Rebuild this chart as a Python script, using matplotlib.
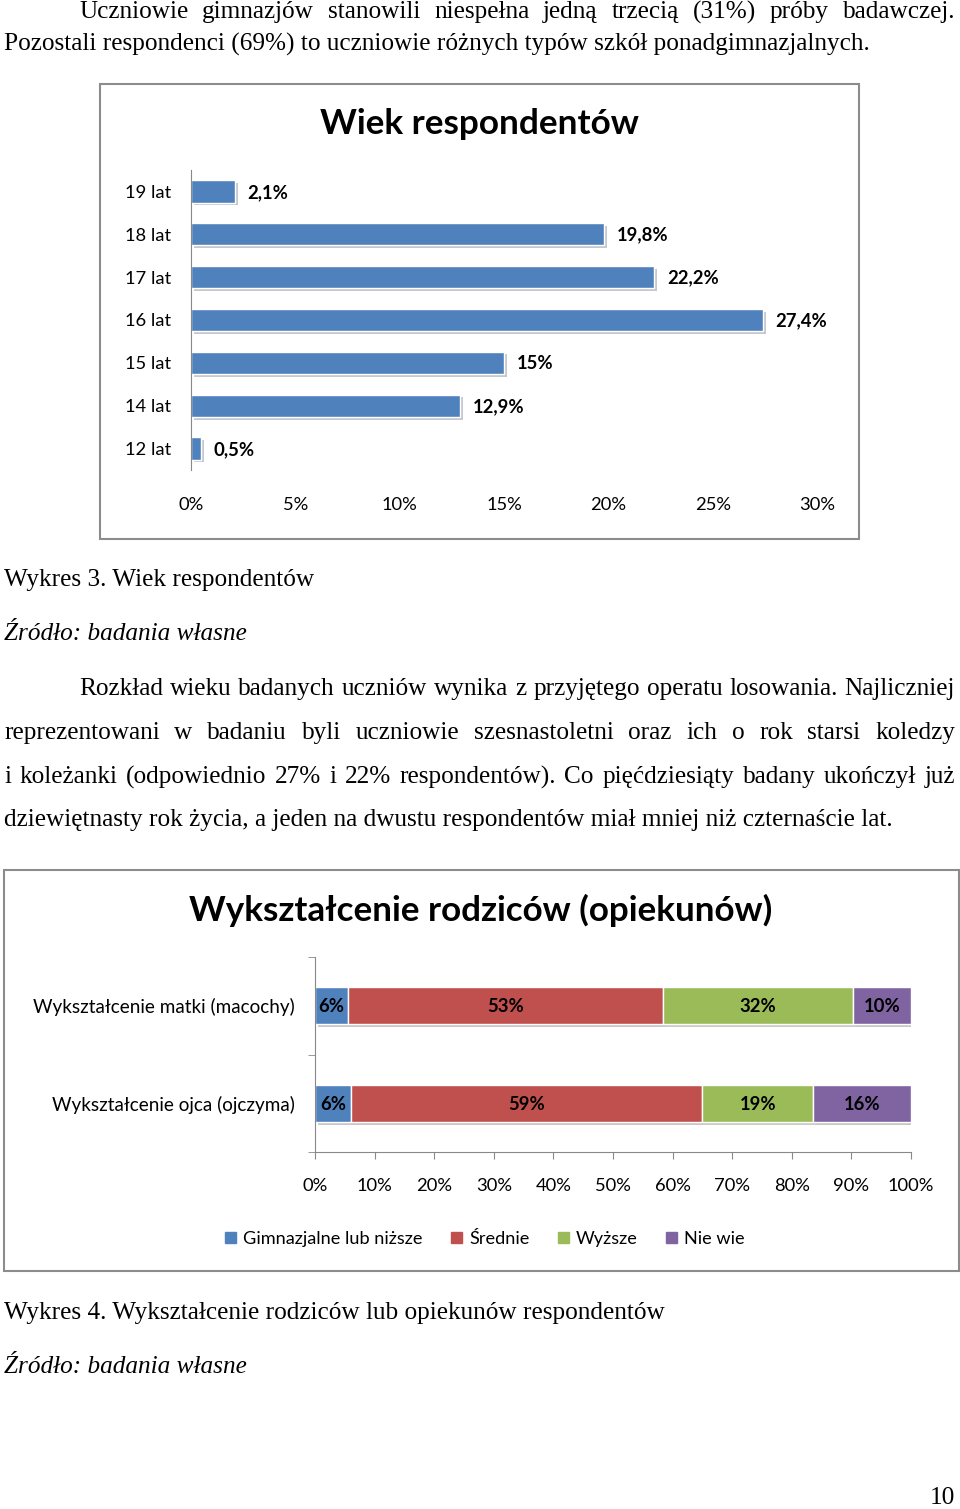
import matplotlib.pyplot as plt
from matplotlib.patches import Rectangle, Patch
import matplotlib.patheffects as pe

# dane - wykres 3
wiek = ['12 lat', '14 lat', '15 lat', '16 lat', '17 lat', '18 lat', '19 lat']
wiek_proc = [0.5, 12.9, 15.0, 27.4, 22.2, 19.8, 2.1]
wiek_etyk = ['0,5%', '12,9%', '15%', '27,4%', '22,2%', '19,8%', '2,1%']
wiek_ticks = [0, 5, 10, 15, 20, 25, 30]

# dane - wykres 4
rodzice = ['Wykształcenie ojca (ojczyma)', 'Wykształcenie matki (macochy)']
poziomy = ['Gimnazjalne lub niższe', 'Średnie', 'Wyższe', 'Nie wie']
gimnazjalne = [6.0, 5.5]
srednie = [59.0, 52.9]
wyzsze = [18.6, 31.9]
nie_wie = [16.4, 9.7]
kolory = ['#4F81BD', '#C0504D', '#9BBB59', '#8064A2']

W, H = 960, 1509
fig = plt.figure(figsize=(W / 100, H / 100), dpi=100)
SERIF = 'Liberation Serif'
SANS = 'Lato'
FS = 18.2


def fx(x):
    return x / W


def fy(y):
    return 1 - y / H


def linia(txt, x, y, **kw):
    fig.text(fx(x), fy(y), txt, family=SERIF, fontsize=FS, va='center', **kw)


def justuj(txt, x0, x1, y, **kw):
    slowa = txt.split()
    teksty = [fig.text(0, 0, s, family=SERIF, fontsize=FS, va='center', **kw) for s in slowa]
    r = fig.canvas.get_renderer()
    szer = [t.get_window_extent(r).width for t in teksty]
    odstep = (x1 - x0 - sum(szer)) / (len(slowa) - 1)
    x = x0
    for t, s in zip(teksty, szer):
        t.set_position((fx(x), fy(y)))
        x += s + odstep


def ramka(x0, y0, x1, y1):
    fig.add_artist(Rectangle((fx(x0), fy(y1)), (x1 - x0) / W, (y1 - y0) / H,
                             transform=fig.transFigure, fill=False, ec='#8c8c8c', lw=1.5))


# tekst nad wykresem
justuj('Uczniowie gimnazjów stanowili niespełna jedną trzecią (31%) próby badawczej.', 79, 955, 12)
linia('Pozostali respondenci (69%) to uczniowie różnych typów szkół ponadgimnazjalnych.', 4, 44)

# wykres 3
ramka(100, 84, 859, 539)
fig.text(fx(480), fy(124), 'Wiek respondentów', family=SANS, fontsize=25.3, weight='bold',
         ha='center', va='center')
ax1 = fig.add_axes([fx(191), fy(470), (817 - 191) / W, 300 / H])
cien = [pe.SimplePatchShadow(offset=(2, -2), alpha=0.25), pe.Normal()]
bars = ax1.barh(range(len(wiek)), wiek_proc, height=0.52, color='#4F81BD',
                edgecolor='white', linewidth=1)
for b in bars:
    b.set_path_effects(cien)
for i, v in enumerate(wiek_proc):
    ax1.text(v + 0.6, i - 0.02, wiek_etyk[i], family=SANS, fontsize=13.3, weight='bold',
             va='center')
ax1.set_xlim(0, 30)
ax1.set_ylim(-0.5, len(wiek) - 0.5)
ax1.set_yticks(range(len(wiek)), wiek)
ax1.set_xticks(wiek_ticks, [f'{t}%' for t in wiek_ticks])
ax1.tick_params(axis='y', length=0, pad=14, labelsize=13.2)
ax1.tick_params(axis='x', length=0, pad=19.5, labelsize=13.2)
for lab in ax1.get_xticklabels() + ax1.get_yticklabels():
    lab.set_family(SANS)
for s in ['top', 'right', 'bottom']:
    ax1.spines[s].set_visible(False)
ax1.spines['left'].set_color('#888888')
ax1.patch.set_alpha(0)

linia('Wykres 3. Wiek respondentów', 4, 580)
linia('Źródło: badania własne', 4, 634, style='italic')

justuj('Rozkład wieku badanych uczniów wynika z przyjętego operatu losowania. Najliczniej', 79, 955, 689)
justuj('reprezentowani w badaniu byli uczniowie szesnastoletni oraz ich o rok starsi koledzy', 4, 955, 733)
justuj('i koleżanki (odpowiednio 27% i 22% respondentów). Co pięćdziesiąty badany ukończył już', 4, 955, 777)
linia('dziewiętnasty rok życia, a jeden na dwustu respondentów miał mniej niż czternaście lat.', 4, 820)

# wykres 4
ramka(4, 870, 959, 1271)
fig.text(fx(481), fy(910), 'Wykształcenie rodziców (opiekunów)', family=SANS, fontsize=25.2,
         weight='bold', ha='center', va='center')
ax2 = fig.add_axes([fx(315), fy(1152), (911 - 315) / W, 195 / H])
serie = [gimnazjalne, srednie, wyzsze, nie_wie]
lewo = [0, 0]
for seria, kol, naz in zip(serie, kolory, poziomy):
    bb = ax2.barh(range(len(rodzice)), seria, left=lewo, height=0.38, color=kol,
                  edgecolor='white', linewidth=1, label=naz)
    for b in bb:
        b.set_path_effects(cien)
    for i, v in enumerate(seria):
        ax2.text(lewo[i] + v / 2, i - 0.01, f'{round(v)}%', family=SANS, fontsize=13.3,
                 weight='bold', ha='center', va='center')
    lewo = [a + b for a, b in zip(lewo, seria)]
ax2.set_xlim(0, 100)
ax2.set_ylim(-0.5, 1.5)
ax2.set_xticks(range(0, 101, 10), [f'{t}%' for t in range(0, 101, 10)])
ax2.set_yticks(range(len(rodzice)), rodzice)
ax2.set_yticks([-0.5, 0.5, 1.5], minor=True)
ax2.tick_params(axis='y', which='major', length=0, pad=14.4, labelsize=13.6)
ax2.tick_params(axis='y', which='minor', length=5, color='#888888', direction='out')
ax2.tick_params(axis='x', length=5, color='#888888', pad=14, labelsize=13.2)
for lab in ax2.get_xticklabels() + ax2.get_yticklabels():
    lab.set_family(SANS)
for s in ['top', 'right']:
    ax2.spines[s].set_visible(False)
ax2.spines['left'].set_color('#888888')
ax2.spines['bottom'].set_color('#888888')
ax2.patch.set_alpha(0)

uchwyty = [Patch(color=k, label=n) for k, n in zip(kolory, poziomy)]
fig.legend(handles=uchwyty, loc='center', bbox_to_anchor=(fx(485), fy(1239)), ncol=4,
           frameon=False, handlelength=0.6, handleheight=0.6, handletextpad=0.4,
           columnspacing=1.55, prop={'family': SANS, 'size': 13.1})

linia('Wykres 4. Wykształcenie rodziców lub opiekunów respondentów', 4, 1313)
linia('Źródło: badania własne', 4, 1367, style='italic')
fig.text(fx(955), fy(1498), '10', family=SERIF, fontsize=FS, ha='right', va='center')

fig.savefig('out.png', dpi=100)
